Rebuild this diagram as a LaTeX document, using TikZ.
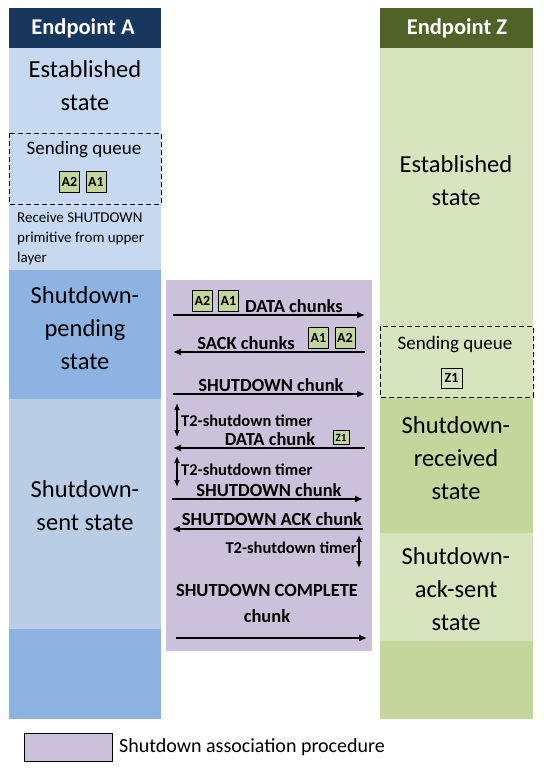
\documentclass[tikz,border=0pt]{standalone}
\usepackage{fontspec}
\setmainfont{Carlito}
\usepackage{tikz}
\usetikzlibrary{arrows.meta}

\definecolor{navyA}{HTML}{17375E}
\definecolor{oliveZ}{HTML}{4F6228}
\definecolor{paleA}{HTML}{C6D9F1}
\definecolor{midA}{HTML}{8DB3E2}
\definecolor{sentA}{HTML}{B9CDE5}
\definecolor{paleZ}{HTML}{D7E4BD}
\definecolor{midZ}{HTML}{C3D69B}
\definecolor{procP}{HTML}{CCC1DA}

\begin{document}
\begin{tikzpicture}[x=1pt, y=-1pt,
    state/.style={align=center, inner sep=0pt, font=\fontsize{24.5}{33}\selectfont},
    header/.style={text=white, inner sep=0pt, font=\bfseries\fontsize{22.5}{24}\selectfont},
    chunk/.style={inner sep=0pt, font=\bfseries\fontsize{18.5}{26}\selectfont},
    timer/.style={inner sep=0pt, font=\bfseries\fontsize{16.5}{18}\selectfont},
    queue/.style={inner sep=0pt, font=\fontsize{19}{20}\selectfont},
    qframe/.style={line width=0.8pt, dash pattern=on 5pt off 3pt},
    tsn/.style={draw, line width=0.8pt, fill=midZ, inner sep=0.5pt, minimum width=20pt, minimum height=21pt, font=\bfseries\fontsize{14}{14}\selectfont},
    msg/.style={line width=1.4pt, -{Latex[length=8pt,width=7pt]}},
    span/.style={line width=1.4pt, {Latex[length=7pt,width=6pt]}-{Latex[length=7pt,width=6pt]}}]
    \useasboundingbox[fill=white] (0,0) rectangle (543,773);

    % endpoint A column
    \fill[navyA] (9,8) rectangle (161,48);
    \fill[paleA] (9,48) rectangle (161,270);
    \fill[midA] (9,270) rectangle (161,399);
    \fill[sentA] (9,399) rectangle (161,629);
    \fill[midA] (9,629) rectangle (161,719);
    \draw[qframe] (9,133) rectangle (161,204);
    \node[header] (hdrA) at (83,28) {Endpoint A};
    \node[state] (estA) at (85,86) {Established\\state};
    \node[queue] (sqA) at (84,150) {Sending queue};
    \node[tsn] (qa2) at (69.5,181.5) {A2};
    \node[tsn] (qa1) at (96,181.5) {A1};
    \node[align=left, anchor=west, inner sep=0pt, font=\fontsize{15}{20}\selectfont] (recvA) at (17,239)
        {Receive SHUTDOWN\\primitive from upper\\layer};
    \node[state] (pendA) at (85,328) {Shutdown-\\pending\\state};
    \node[state] (sentAst) at (85,506) {Shutdown-\\sent state};

    % endpoint Z column
    \fill[oliveZ] (380,8) rectangle (533,48);
    \fill[paleZ] (380,48) rectangle (533,398);
    \fill[midZ] (380,398) rectangle (533,533);
    \fill[paleZ] (380,533) rectangle (533,641);
    \fill[midZ] (380,641) rectangle (533,719);
    \draw[qframe] (380,326) rectangle (533,397);
    \node[header] (hdrZ) at (457,28) {Endpoint Z};
    \node[state] (estZ) at (456,181) {Established\\state};
    \node[queue] (sqZ) at (455,345) {Sending queue};
    \node[tsn, fill=paleZ, minimum width=21pt, minimum height=20pt] (qz1) at (451.5,378) {Z1};
    \node[state] (recvZ) at (456,458) {Shutdown-\\received\\state};
    \node[state] (ackZ) at (456,589) {Shutdown-\\ack-sent\\state};

    % shutdown procedure
    \fill[procP] (166,280) rectangle (372,651);

    \coordinate (m1l) at (173,315);  \coordinate (m1r) at (365,315);
    \coordinate (m2l) at (173,352);  \coordinate (m2r) at (365,352);
    \coordinate (m3l) at (173,394);  \coordinate (m3r) at (365,394);
    \coordinate (m4l) at (173,448);  \coordinate (m4r) at (365,448);
    \coordinate (m5l) at (172,499);  \coordinate (m5r) at (363,499);
    \coordinate (m6l) at (172,529);  \coordinate (m6r) at (363,529);
    \coordinate (m7l) at (176,638);  \coordinate (m7r) at (367,638);
    \coordinate (t1a) at (177,403);  \coordinate (t1b) at (177,437);
    \coordinate (t2a) at (177,456);  \coordinate (t2b) at (177,487);
    \coordinate (t3a) at (359,535);  \coordinate (t3b) at (359,568);

    \node[tsn] (da2) at (202.5,300.5) {A2};
    \node[tsn] (da1) at (228.5,300.5) {A1};
    \node[chunk] (lbl1) at (294,306) {DATA chunks};
    \draw[msg] (m1l) -- (m1r);

    \node[chunk] (lbl2) at (246,343) {SACK chunks};
    \node[tsn] (sa1) at (318.5,337.5) {A1};
    \node[tsn] (sa2) at (345,337.5) {A2};
    \draw[msg] (m2r) -- (m2l);

    \node[chunk] (lbl3) at (271,385) {SHUTDOWN chunk};
    \draw[msg] (m3l) -- (m3r);

    \draw[span] (t1a) -- (t1b);
    \node[timer, anchor=west] (tm1) at (181,421) {T2-shutdown timer};

    \node[chunk] (lbl4) at (270,439) {DATA chunk};
    \node[tsn, minimum width=16pt, minimum height=14pt, inner sep=0.5pt, font=\bfseries\fontsize{11}{11}\selectfont] (dz1) at (341,437.5) {Z1};
    \draw[msg] (m4r) -- (m4l);

    \draw[span] (t2a) -- (t2b);
    \node[timer, anchor=west] (tm2) at (181,470) {T2-shutdown timer};

    \node[chunk] (lbl5) at (269,490) {SHUTDOWN chunk};
    \draw[msg] (m5l) -- (m5r);

    \node[chunk] (lbl6) at (272,519) {SHUTDOWN ACK chunk};
    \draw[msg] (m6r) -- (m6l);

    \draw[span] (t3a) -- (t3b);
    \node[timer, anchor=east] (tm3) at (357,548) {T2-shutdown timer};

    \node[chunk, align=center] (lbl7) at (267,603) {SHUTDOWN COMPLETE\\chunk};
    \draw[msg] (m7l) -- (m7r);

    % legend
    \node[draw, line width=0.8pt, fill=procP, minimum width=88pt, minimum height=28pt, inner sep=0pt] (key) at (68,747) {};
    \node[anchor=west, inner sep=0pt, font=\fontsize{20}{20}\selectfont] (keytxt) at (119,747) {Shutdown association procedure};
\end{tikzpicture}
\end{document}
